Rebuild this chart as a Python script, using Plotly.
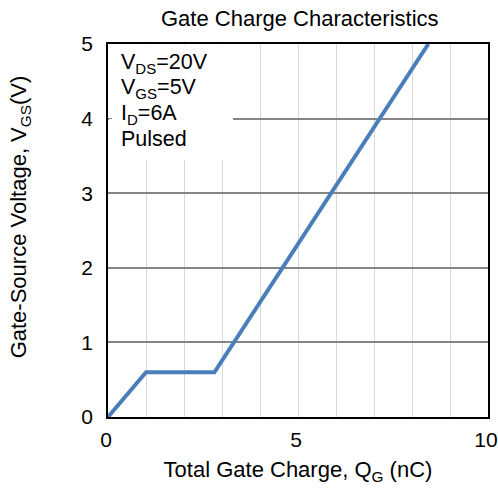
import plotly.graph_objects as go

# Data
qg_nc = [0, 1.0, 2.8, 8.43]
vgs_v = [0, 0.6, 0.6, 5.0]

x_ticks = [0, 5, 10]
y_ticks = [0, 1, 2, 3, 4, 5]

cond_lines = ["V<sub>DS</sub>=20V", "V<sub>GS</sub>=5V", "I<sub>D</sub>=6A", "Pulsed"]
cond_y = [4.74, 4.40, 4.06, 3.72]

FONT = "Liberation Sans, Arial, sans-serif"

fig = go.Figure()
fig.add_trace(go.Scatter(
    x=qg_nc, y=vgs_v, mode="lines",
    line=dict(color="#4A7EBB", width=4),
    showlegend=False, hoverinfo="skip",
))

# white box behind the condition text (covers grid, under trace)
fig.add_shape(type="rect", xref="x", yref="y", x0=0.03, x1=3.29, y0=3.445, y1=4.985,
              fillcolor="white", line=dict(width=0), layer="between")

for txt, yy in zip(cond_lines, cond_y):
    fig.add_annotation(
        x=0.29, y=yy, xref="x", yref="y", xanchor="left", yanchor="middle",
        text=txt, align="left", showarrow=False,
        font=dict(family=FONT, size=21.5, color="black"),
    )

# y-axis title (placed as rotated text to match reference position)
fig.add_annotation(
    x=-0.232, y=0.5375, xref="paper", yref="paper", xanchor="center", yanchor="middle",
    text="Gate-Source Voltage, V<sub>GS</sub>(V)", textangle=-90, showarrow=False,
    font=dict(family=FONT, size=22, color="black"),
)

fig.update_layout(
    width=498, height=488,
    margin=dict(l=108, r=10, t=44, b=71),
    paper_bgcolor="white", plot_bgcolor="white",
    title=dict(text="Gate Charge Characteristics", x=0.602, xanchor="center",
               y=0.963, yanchor="middle", font=dict(family=FONT, size=22, color="black")),
    font=dict(family=FONT, size=21, color="black"),
)

fig.update_xaxes(
    range=[0, 10], tickvals=x_ticks, ticktext=[str(v) for v in x_ticks],
    showgrid=True, gridcolor="#D9D9D9", gridwidth=1,
    minor=dict(dtick=1, tick0=0, showgrid=True, gridcolor="#D9D9D9", gridwidth=1),
    showline=True, linecolor="black", linewidth=1.5, mirror=True,
    ticks="", zeroline=False, tickfont=dict(size=21), ticklabelstandoff=3,
    ticklabelshift=-2, ticklabeloverflow="allow", automargin=False,
    title=dict(text="Total Gate Charge, Q<sub>G</sub> (nC)", font=dict(size=22), standoff=12),
)
fig.update_yaxes(
    range=[0, 5], tickvals=y_ticks, ticktext=[str(v) for v in y_ticks],
    showgrid=True, gridcolor="#858585", gridwidth=2,
    showline=True, linecolor="black", linewidth=1.5, mirror=True,
    ticks="inside", ticklen=4, tickcolor="#858585", zeroline=False, tickfont=dict(size=21),
    ticklabelstandoff=9, ticklabeloverflow="allow", automargin=False,
)

fig.write_html("out.html", config={"displayModeBar": False},
               post_script="document.body.style.margin='0';")
